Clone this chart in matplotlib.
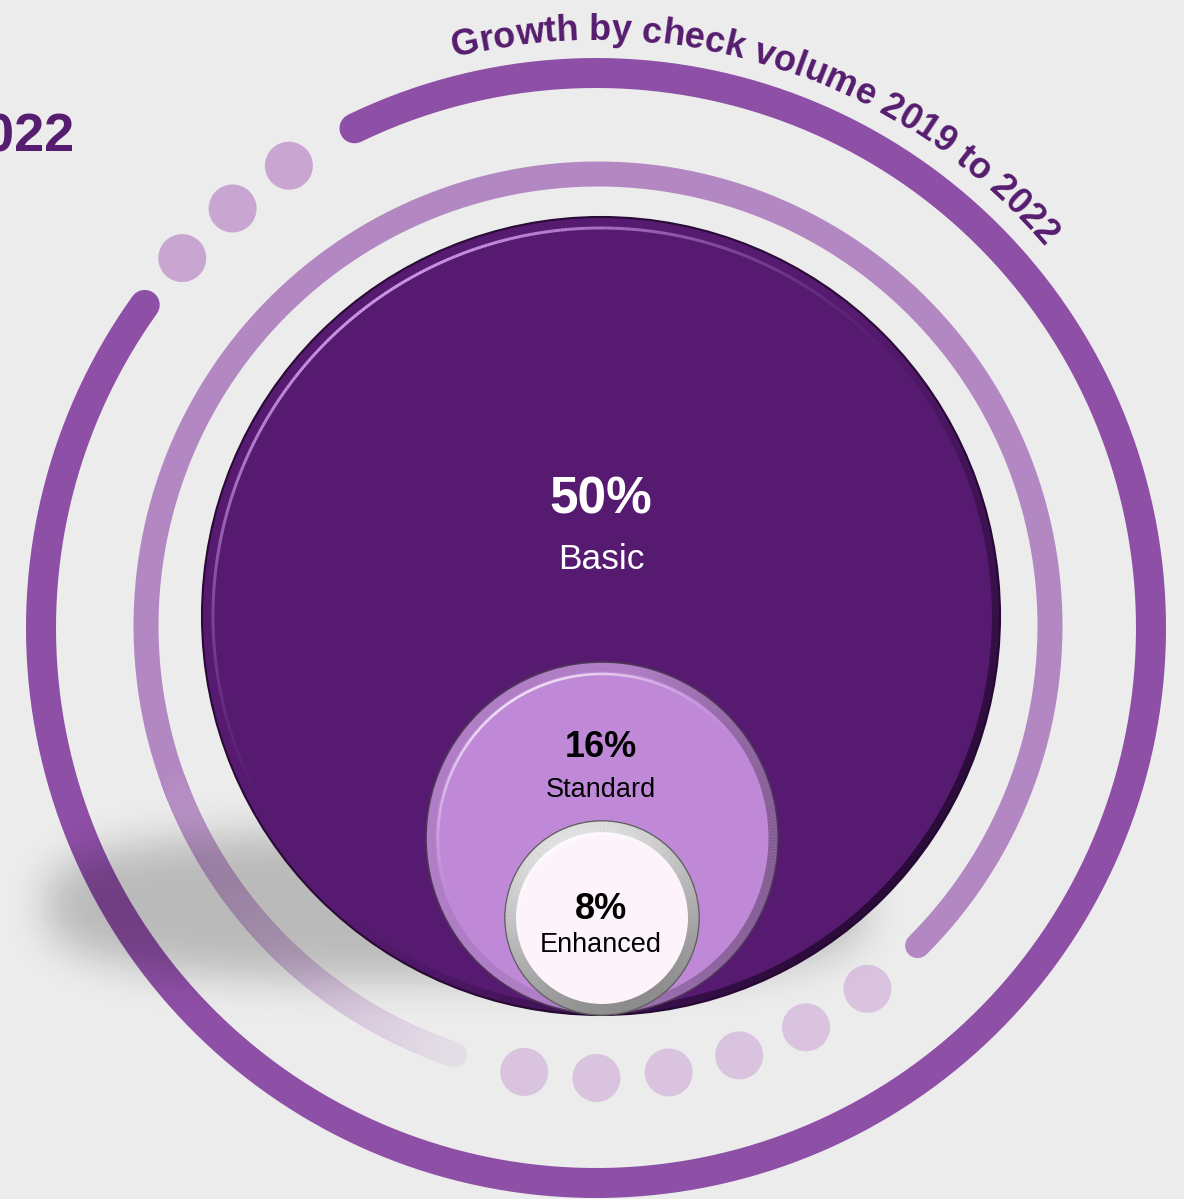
import numpy as np
import matplotlib.pyplot as plt
from matplotlib.patches import Circle
from matplotlib.collections import LineCollection
from matplotlib.colors import to_rgb
from matplotlib.font_manager import FontProperties, findfont
from matplotlib.ft2font import FT2Font

plt.rcParams['font.family'] = ['Liberation Sans', 'DejaVu Sans']

# data
tiers = ['Basic', 'Standard', 'Enhanced']
growth_pct = [50, 16, 8]
title = 'Growth by check volume 2019 to 2022'
side_label = '2022'

# layout, in pixels
W, H = 1184, 1199
PX = 72 / 100  # points per pixel
bg = '#ececec'
dark_purple = '#561c6f'

bubble_xy = [(601, 616), (602, 838), (602, 918)]
bubble_r = [399, 176, 97]
bubble_fc = ['#561b70', '#bf89d7', '#fcf3fb']
pct_y = [513, 757, 919]
name_y = [569, 797, 952]
pct_size = [37, 26, 26]
name_size = [25.5, 19.5, 19.5]
text_col = ['white', 'black', 'black']

fig = plt.figure(figsize=(W / 100, H / 100), dpi=100)
fig.patch.set_facecolor(bg)
ax = fig.add_axes([0, 0, 1, 1])
ax.set_facecolor(bg)
ax.axis('off')


def arc_xy(cx, cy, r, a0, a1, n=500):
    t = np.radians(np.linspace(a0, a1, n))
    return cx + r * np.cos(t), cy - r * np.sin(t)


def ring(cx, cy, r, lw, colfn, a0=0, a1=360, n=720, z=3, cap='butt'):
    t = np.linspace(a0, a1, n + 1)
    x, y = arc_xy(cx, cy, r, a0, a1, n + 1)
    segs = np.stack([np.column_stack([x[:-1], y[:-1]]),
                     np.column_stack([x[1:], y[1:]])], axis=1)
    mid = (t[:-1] + t[1:]) / 2
    lc = LineCollection(segs, colors=[colfn(m) for m in mid],
                        linewidths=lw * PX, capstyle=cap, zorder=z)
    ax.add_collection(lc)


def lobe(theta, centre, power=1.5):
    return np.clip(np.cos(np.radians(theta - centre)), 0, 1) ** power


# outer ring with dotted gap
ocx, ocy, orr = 596, 628, 555
ax.plot(*arc_xy(ocx, ocy, orr, 144.4, 475.8), color='#8e4fa6', lw=30 * PX,
        solid_capstyle='round', zorder=1)
for a in [123.6, 130.9, 138.2]:
    x, y = arc_xy(ocx, ocy, orr, a, a, 1)
    ax.add_patch(Circle((x[0], y[0]), 24, color='#c9a6d2', lw=0, zorder=1))

# inner ring, fading out on the lower left, dotted gap at the bottom
icx, icy, irr = 598, 626, 452
ring_c = np.array(to_rgb('#b388c2'))
bg_c = np.array(to_rgb(bg))
ax.plot(*arc_xy(icx, icy, irr, -45, 202), color=ring_c, lw=25 * PX,
        solid_capstyle='round', zorder=1)


def fade(th):
    f = np.clip((th - 200) / 51.5, 0, 1)
    return tuple(ring_c + (bg_c - ring_c) * 0.85 * f)


ring(icx, icy, irr, 25, fade, 200, 251.5, n=120, z=1, cap='round')
for a in [-99.4, -90.2, -81.0, -71.8, -62.6, -53.4]:
    x, y = arc_xy(icx, icy, irr, a, a, 1)
    ax.add_patch(Circle((x[0], y[0]), 24, color='#d9c3df', lw=0, zorder=1))

# soft drop shadow
gx = np.arange(0, 980)
gy = np.arange(760, 1090)
X, Y = np.meshgrid(gx, gy)
m = (np.abs((X - 455) / 410) ** 3 + np.abs((Y - 905) / 75) ** 3 <= 1).astype(float)
k = np.exp(-0.5 * (np.arange(-60, 61) / 20) ** 2)
k /= k.sum()
m = np.apply_along_axis(lambda v: np.convolve(v, k, mode='same'), 1, m)
m = np.apply_along_axis(lambda v: np.convolve(v, k, mode='same'), 0, m)
img = np.zeros((len(gy), len(gx), 4))
img[..., 3] = 0.21 * m
ax.imshow(img, extent=(0, 980, 1090, 760), zorder=4, interpolation='bilinear')

# Basic bubble
(bx, by), br = bubble_xy[0], bubble_r[0]
ax.add_patch(Circle((bx, by), br, facecolor=bubble_fc[0], edgecolor='#2a0a36',
                    lw=1.5, zorder=5))
ring(bx, by, br - 4, 8, lambda t: (0.13, 0.03, 0.18, 0.85 * lobe(t, -40, 1.2)), z=5.1)
ring(bx, by, br - 11, 3, lambda t: (0.86, 0.66, 0.96, 0.9 * lobe(t, 125, 2)), z=5.1)

# Standard bubble
(sx, sy), sr = bubble_xy[1], bubble_r[1]
ax.add_patch(Circle((sx, sy), sr, facecolor=bubble_fc[1], edgecolor='#4d3656',
                    lw=1.2, zorder=6))
ring(sx, sy, sr - 5, 9, lambda t: (0.45, 0.32, 0.50, 0.2 + 0.6 * lobe(t, -10, 1.0)), z=6.1)
ring(sx, sy, sr - 12, 2.5, lambda t: (1, 1, 1, 0.8 * lobe(t, 120, 2)), z=6.1)

# Enhanced bubble with grey bevel
(ex, ey), er = bubble_xy[2], bubble_r[2]
ax.add_patch(Circle((ex, ey), er, facecolor='#9a9a9a', edgecolor='#5e5e5e',
                    lw=1.2, zorder=7))
light = np.array(to_rgb('#f2f2f2'))
shade = np.array(to_rgb('#8a8a8a'))
ring(ex, ey, er - 6, 11,
     lambda t: tuple(shade + (light - shade) * (0.5 + 0.5 * np.cos(np.radians(t - 110)))),
     z=7.1)
ax.add_patch(Circle((ex, ey), er - 11, facecolor=bubble_fc[2], lw=0, zorder=7.2))
ring(ex, ey, er - 13, 2.5, lambda t: (1, 1, 1, 0.9 * lobe(t, 110, 2)), z=7.3)

# labels
for i in range(len(tiers)):
    ax.text(601, pct_y[i], f'{growth_pct[i]}%', ha='center', va='baseline',
            fontsize=pct_size[i], fontweight='bold', color=text_col[i], zorder=10)
    ax.text(601, name_y[i], tiers[i], ha='center', va='baseline',
            fontsize=name_size[i], color=text_col[i], zorder=10)

# heading on the left, cropped by the frame as in the source
ax.text(74, 151, side_label, ha='right', va='baseline', fontsize=39,
        fontweight='bold', color=dark_purple, zorder=10)

# curved title around the outer ring
prop = FontProperties(family='Liberation Sans', weight='bold', size=26)
font = FT2Font(findfont(prop))
font.set_size(26, 100)
adv = [font.load_char(ord(c)).linearHoriAdvance / 65536 for c in title]
total = sum(adv)
r_base = 588
start = np.radians(72.2) + (total / 2) / r_base
pos = 0
for c, w in zip(title, adv):
    th = start - (pos + w / 2) / r_base
    x = ocx + r_base * np.cos(th)
    y = ocy - r_base * np.sin(th)
    ax.text(x, y, c, fontproperties=prop, color=dark_purple, ha='center',
            va='baseline', rotation=np.degrees(th) - 90, rotation_mode='anchor',
            zorder=10)
    pos += w

ax.set_xlim(0, W)
ax.set_ylim(H, 0)
ax.set_aspect('auto')
fig.savefig('out.png', dpi=100, facecolor=bg)
